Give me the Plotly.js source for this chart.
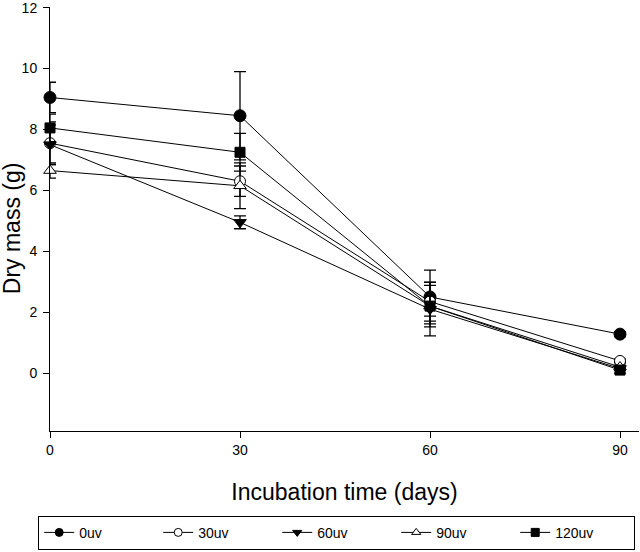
<!DOCTYPE html>
<html>
<head>
<meta charset="utf-8">
<script src="https://cdn.plot.ly/plotly-3.0.1.min.js"></script>
<style>html,body{margin:0;padding:0;background:#fff;}#chart{width:640px;height:552px;}</style>
</head>
<body>
<div id="chart"></div>
<script>
const days = [0, 30, 60, 90];
const seriesNames = ['0uv', '30uv', '60uv', '90uv', '120uv'];
const uv0 = [9.05, 8.45, 2.5, 1.28];
const err0 = [0.5, 1.45, 0.88, 0.08];
const uv30 = [7.55, 6.3, 2.35, 0.4];
const err30 = [0.7, 0.5, 0.64, 0.06];
const uv60 = [7.5, 4.95, 2.1, 0.15];
const err60 = [0.65, 0.21, 0.88, 0.06];
const uv90 = [6.65, 6.15, 2.2, 0.2];
const err90 = [0.25, 0.75, 0.33, 0.06];
const uv120 = [8.05, 7.25, 2.2, 0.1];
const err120 = [0.45, 0.62, 0.68, 0.1];
const yTicks = [0, 2, 4, 6, 8, 10, 12];
const xTicks = [0, 30, 60, 90];

const values = [uv0, uv30, uv60, uv90, uv120];
const errs = [err0, err30, err60, err90, err120];
const symbols = ['circle', 'circle', 'triangle-down', 'triangle-up', 'square'];
const fills = ['#000', '#fff', '#000', '#fff', '#000'];
const sizes = [12, 11, 11, 11, 10];

const traces = seriesNames.map((n, i) => ({
  x: days, y: values[i], name: n, type: 'scatter', mode: 'lines+markers',
  showlegend: false, cliponaxis: false,
  line: {color: '#000', width: 1},
  marker: {symbol: symbols[i], size: sizes[i], color: fills[i], line: {color: '#000', width: 1}},
  error_y: {type: 'data', array: errs[i], visible: true, color: '#000', thickness: 1.3, width: 6}
}));
// legend-only entries with smaller symbols, as in the reference key
seriesNames.forEach((n, i) => traces.push({
  x: [null], y: [null], name: n, type: 'scatter', mode: 'lines+markers',
  line: {color: '#000', width: 1},
  marker: {symbol: symbols[i], size: 8, color: fills[i], line: {color: '#000', width: 1}}
}));

const font = {family: 'Liberation Sans, Arial, sans-serif', color: '#000'};
const layout = {
  width: 640, height: 552,
  margin: {l: 50, r: 1, t: 7, b: 121, autoexpand: false},
  paper_bgcolor: '#fff', plot_bgcolor: '#fff',
  font: Object.assign({size: 14}, font),
  showlegend: true,
  xaxis: {
    range: [0, 93], tickvals: xTicks, ticktext: xTicks.map(String),
    showgrid: false, zeroline: false, showline: true, linecolor: '#000', linewidth: 1,
    ticks: 'outside', ticklen: 6, tickcolor: '#000',
    tickfont: Object.assign({size: 14}, font),
    title: {text: 'Incubation time (days)', font: Object.assign({size: 23}, font), standoff: 27}
  },
  yaxis: {
    range: [-1.9, 12.02], tickvals: yTicks, ticktext: yTicks.map(String),
    showgrid: false, zeroline: false, showline: true, linecolor: '#000', linewidth: 1,
    ticks: 'outside', ticklen: 6, tickcolor: '#000', ticklabeloverflow: 'allow',
    ticklabelstandoff: 3,
    tickfont: Object.assign({size: 14}, font)
  },
  annotations: [{
    text: 'Dry mass (g)', textangle: -90, xref: 'paper', yref: 'paper',
    x: -0.064, y: 0.479, xanchor: 'center', yanchor: 'middle', showarrow: false,
    font: Object.assign({size: 23}, font)
  }],
  legend: {
    orientation: 'h', x: -0.02, xanchor: 'left', y: -0.2, yanchor: 'top',
    bordercolor: '#000', borderwidth: 1, bgcolor: '#fff',
    entrywidth: 74, entrywidthmode: 'pixels', tracegroupgap: 0,
    font: Object.assign({size: 14}, font), itemwidth: 30
  }
};
Plotly.newPlot('chart', traces, layout, {displayModeBar: false, staticPlot: true});
</script>
</body>
</html>
